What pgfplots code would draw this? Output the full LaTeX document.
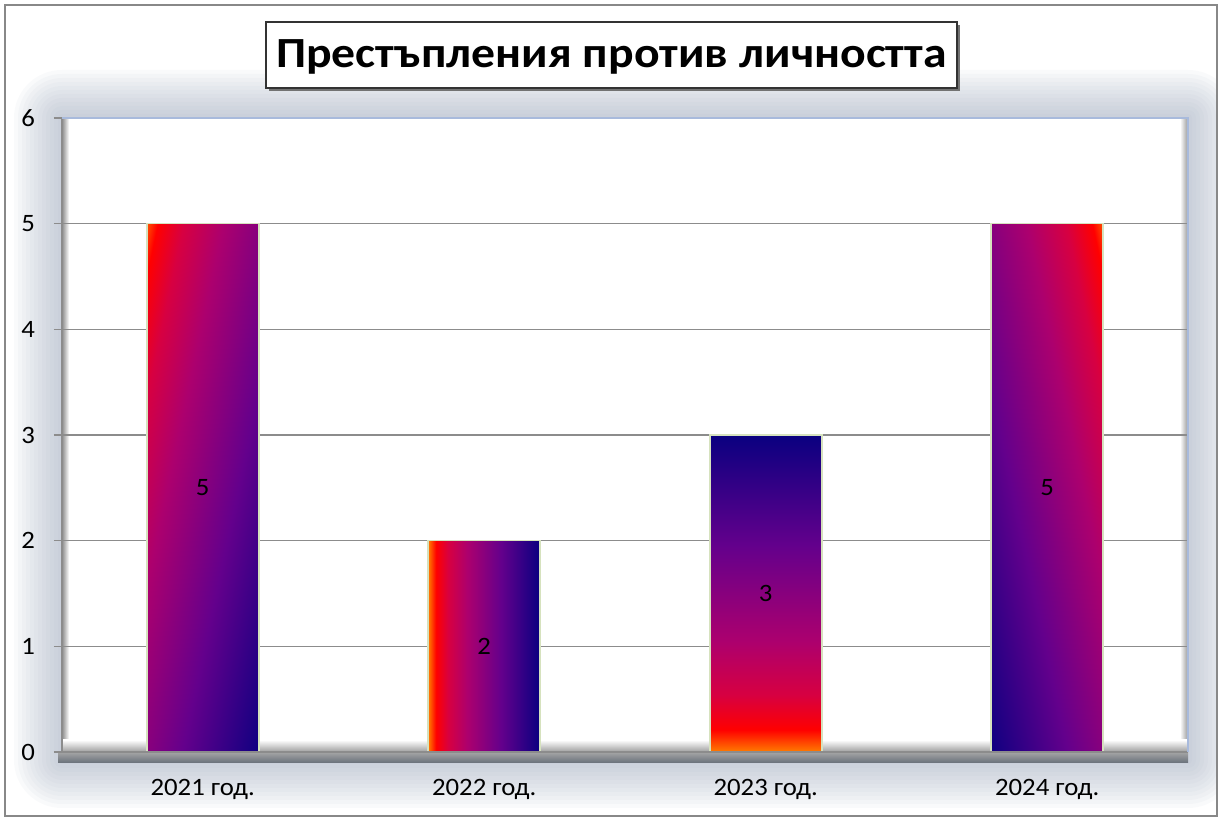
\documentclass[border=0pt]{standalone}
\usepackage{fontspec}
\setmainfont{Carlito}[FakeStretch=1.07]
\newfontfamily\titlefont{Carlito}[FakeStretch=1.11]
\usepackage{pgfplots}
\pgfplotsset{compat=1.18}
\definecolor{fOrange}{RGB}{255,125,0}
\definecolor{fRed}{RGB}{255,0,0}
\definecolor{fCrim}{RGB}{215,0,65}
\definecolor{fMag}{RGB}{172,0,110}
\definecolor{fPur}{RGB}{100,0,140}
\definecolor{fNavy}{RGB}{10,0,128}
\definecolor{gridgray}{RGB}{140,140,140}
\definecolor{glow}{RGB}{150,164,186}
\definecolor{baredge}{RGB}{214,226,190}
\definecolor{edgeblue}{RGB}{168,186,220}
\definecolor{framegray}{RGB}{136,136,136}
% shading for axis-aligned bars: bar extent maps to 25bp..75bp
\pgfdeclarehorizontalshading{fireA}{100bp}{color(0bp)=(fOrange); color(25bp)=(fOrange); color(28.5bp)=(fRed); color(34bp)=(fCrim); color(42.5bp)=(fMag); color(57.5bp)=(fPur); color(75bp)=(fNavy); color(100bp)=(fNavy)}
% shading for the slanted bars: bar extent maps to about 18.7bp..81.3bp
\pgfdeclarehorizontalshading{fireC}{100bp}{color(0bp)=(fOrange); color(18.7bp)=(fOrange); color(23.1bp)=(fRed); color(30bp)=(fCrim); color(40.6bp)=(fMag); color(59.4bp)=(fPur); color(81.3bp)=(fNavy); color(100bp)=(fNavy)}
\begin{document}
\begin{tikzpicture}
\begin{scope}[x=0.5pt,y=0.5pt]
\useasboundingbox (0,0) rectangle (1223,820);
\fill[white] (0,0) rectangle (1223,820);
% glow around plot area
\begin{scope}
\clip (6,5) rectangle (1216,814);
\foreach \i in {1,...,12}{
  \fill[glow, opacity=0.05, rounded corners={4*\i*0.5pt}] ({62-4*\i},{60-4*\i}) rectangle ({1188+4*\i},{702+4*\i});
}
\end{scope}
\draw[framegray, line width=1pt] (5,4) rectangle (1217,815);
% plot area
\fill[white] (62,68) rectangle (1188,702);
\shade[left color=black!45, right color=white] (62,68) rectangle (69,702);
\shade[left color=white, right color=black!40] (1180,68) rectangle (1188,702);
\shade[top color=white, bottom color=black!38] (62,68) rectangle (1188,80);
\shade[top color=black!35, bottom color={rgb,255:red,104;green,112;blue,122}] (58,57) rectangle (1188,68);
% title
\fill[black!55] (269,729) rectangle (960,795);
\draw[black!80, fill=white, line width=0.6pt] (266,732) rectangle (957,798);
\node[font=\titlefont\fontsize{21.5}{25}\selectfont\bfseries] at (611.5,763) {Престъпления против личността};
\end{scope}
\begin{axis}[
  at={(31pt,34pt)}, anchor=south west,
  scale only axis, width=563pt, height=317pt,
  xmin=-0.5, xmax=3.5, ymin=0, ymax=6,
  ytick={0,1,...,6},
  xtick={0,1,2,3},
  xticklabels={2021 год.,2022 год.,2023 год.,2024 год.},
  major x tick style={draw=none},
  extra x ticks={-0.5,0.5,1.5,2.5,3.5},
  extra x tick labels={},
  extra x tick style={grid=none, major tick length=4pt},
  axis line style={draw=none},
  tick align=outside, xtick pos=bottom, ytick pos=left,
  major tick length=4pt,
  tick style={gridgray, line width=0.7pt},
  ymajorgrids, grid style={gridgray, line width=0.8pt},
  /pgf/number format/assume math mode=true,
  ticklabel style={font=\fontsize{12.5}{15}\selectfont, text=black},
  yticklabel style={xshift=-6pt},
  xticklabel style={yshift=-6pt},
  clip=false,
]
\addplot[ybar, bar width=56pt, bar shift=0pt, draw=baredge, line width=0.8pt, shading=fireC, shading angle=-12] coordinates {(0,5)};
\addplot[ybar, bar width=56pt, bar shift=0pt, draw=baredge, line width=0.8pt, shading=fireA, shading angle=0] coordinates {(1,2)};
\addplot[ybar, bar width=56pt, bar shift=0pt, draw=baredge, line width=0.8pt, shading=fireA, shading angle=90] coordinates {(2,3)};
\addplot[ybar, bar width=56pt, bar shift=0pt, draw=baredge, line width=0.8pt, shading=fireC, shading angle=-168] coordinates {(3,5)};
\addplot[draw=none, mark=none, only marks, point meta=explicit symbolic, nodes near coords,
  nodes near coords style={anchor=center, font=\fontsize{12.5}{15}\selectfont, text=black}]
  coordinates {(0,2.5)[5] (1,1)[2] (2,1.5)[3] (3,2.5)[5]};
\end{axis}
\begin{scope}[x=0.5pt,y=0.5pt]
\draw[gridgray, line width=0.7pt] (62,702) -- (62,68) -- (1188,68);
\draw[edgeblue, line width=0.6pt] (62,702) -- (1188,702) -- (1188,68);
\end{scope}
\end{tikzpicture}
\end{document}
